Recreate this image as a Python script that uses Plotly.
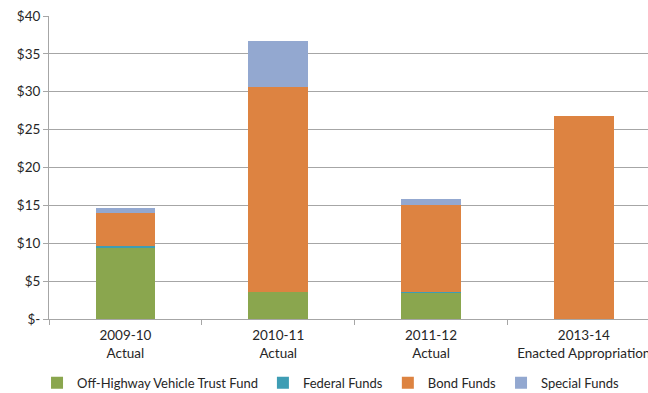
import plotly.graph_objects as go

# Funding by source, in millions of dollars
categories = ["2009-10<br>Actual", "2010-11<br>Actual", "2011-12<br>Actual",
              "2013-14<br>Enacted Appropriation"]
ohv_trust = [9.5, 3.5, 3.5, 0]
federal = [0.2, 0.0, 0.1, 0]
bond = [4.3, 27.1, 11.4, 26.8]
special = [0.65, 6.1, 0.85, 0]

y_ticks = [0, 5, 10, 15, 20, 25, 30, 35, 40]
y_tick_text = ["$-", "$5", "$10", "$15", "$20", "$25", "$30", "$35", "$40"]

series = [
    ("Off-Highway Vehicle Trust Fund", ohv_trust, "#8AA64E"),
    ("Federal Funds", federal, "#3E9DB4"),
    ("Bond Funds", bond, "#DD8341"),
    ("Special Funds", special, "#93A8D0"),
]

fig = go.Figure()
for name, vals, color in series:
    fig.add_trace(go.Bar(
        x=categories, y=vals, name=name,
        marker=dict(color=color, line=dict(width=0)),
        width=0.39,
    ))

font_family = "Lato, 'Open Sans', sans-serif"
fig.update_layout(
    width=648, height=393,
    barmode="stack",
    plot_bgcolor="white", paper_bgcolor="white",
    margin=dict(l=49, r=0, t=16, b=74, autoexpand=False),
    font=dict(family=font_family, size=13, color="#262626"),
    showlegend=True,
    legend=dict(
        orientation="h", x=0.47, xanchor="center",
        yref="container", y=0.026, yanchor="middle",
        font=dict(size=13, color="#262626"),
        itemwidth=30, traceorder="normal",
    ),
    xaxis=dict(
        range=[-0.5, 3.42],
        showline=True, linecolor="#A6A6A6", linewidth=1,
        ticks="outside", tickson="boundaries", ticklen=5, tickcolor="#A6A6A6",
        showgrid=False, ticklabelstandoff=4,
        tickfont=dict(size=13.5, color="#262626"),
    ),
    yaxis=dict(
        range=[0, 40],
        tickvals=y_ticks, ticktext=y_tick_text,
        showline=True, linecolor="#A6A6A6", linewidth=1,
        ticks="outside", ticklen=5, tickcolor="#A6A6A6",
        showgrid=True, gridcolor="#A6A6A6", gridwidth=1,
        zeroline=False,
        tickfont=dict(size=13.5, color="#262626"),
    ),
)

fig.write_html("out.html")
